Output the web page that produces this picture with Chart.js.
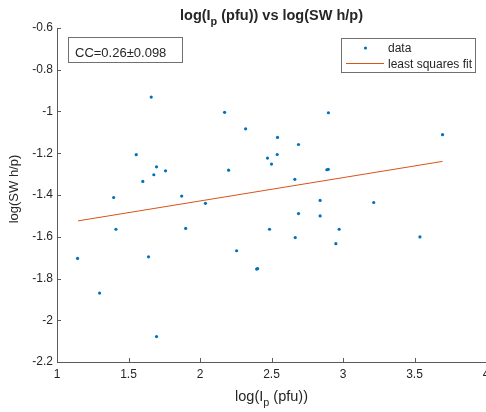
<!DOCTYPE html>
<html>
<head>
<meta charset="utf-8">
<script src="https://cdn.jsdelivr.net/npm/chart.js@4"></script>
<style>
  html, body { margin: 0; padding: 0; background: #fff; }
  canvas { display: block; }
</style>
</head>
<body>
<canvas id="scatterChart" width="486" height="412"></canvas>
<script>
// --- Data ---
const xVals = [1.144, 1.298, 1.396, 1.412, 1.554, 1.600, 1.640, 1.659, 1.677, 1.696,
               1.696, 1.759, 1.872, 1.900, 2.038, 2.172, 2.200, 2.256, 2.319, 2.396,
               2.403, 2.472, 2.486, 2.500, 2.540, 2.542, 2.663, 2.666, 2.689, 2.689,
               2.840, 2.840, 2.887, 2.897, 2.898, 2.950, 2.973, 3.215, 3.538, 3.696];
const yVals = [-1.704, -1.870, -1.412, -1.564, -1.207, -1.335, -1.696, -0.931, -1.303, -1.265,
               -2.078, -1.284, -1.405, -1.560, -1.440, -1.004, -1.281, -1.667, -1.083, -1.755,
               -1.753, -1.223, -1.564, -1.252, -1.206, -1.124, -1.325, -1.604, -1.158, -1.489,
               -1.426, -1.500, -1.279, -1.277, -1.006, -1.633, -1.564, -1.436, -1.601, -1.111];
const fitX = [1.147, 3.696];
const fitY = [-1.524, -1.239];
const xTicks = [1, 1.5, 2, 2.5, 3, 3.5, 4];
const xTickLabels = ['1', '1.5', '2', '2.5', '3', '3.5', '4'];
const yTicks = [-2.2, -2, -1.8, -1.6, -1.4, -1.2, -1, -0.8, -0.6];
const yTickLabels = ['-2.2', '-2', '-1.8', '-1.6', '-1.4', '-1.2', '-1', '-0.8', '-0.6'];
const ccText = 'CC=0.26\u00b10.098';

const FONT = '"Liberation Sans", Arial, sans-serif';
const AXIS_COLOR = '#5a5a5a';
const TEXT_COLOR = '#262626';
const BLUE = '#0072BD';
const ORANGE = '#D95319';

// --- Helper: text with a subscript part ---
function drawSubText(ctx, parts, x, y, size, bold, align) {
    // parts: [[text, isSub], ...]
    const w = parts.map(p => {
        ctx.font = (bold ? 'bold ' : '') + (p[1] ? size * 0.75 : size) + 'px ' + FONT;
        return ctx.measureText(p[0]).width;
    });
    const total = w.reduce((a, b) => a + b, 0);
    let cx = align === 'center' ? x - total / 2 : x;
    parts.forEach((p, i) => {
        ctx.font = (bold ? 'bold ' : '') + (p[1] ? size * 0.75 : size) + 'px ' + FONT;
        ctx.fillText(p[0], cx, p[1] ? y + size * 0.35 : y);
        cx += w[i];
    });
}

// --- Extras: title, labels, inward ticks, CC box, legend ---
const extras = {
    id: 'extras',
    afterDraw(chart) {
        const ctx = chart.ctx;
        const xs = chart.scales.x, ys = chart.scales.y;
        const area = chart.chartArea;
        ctx.save();

        // inward ticks
        ctx.strokeStyle = AXIS_COLOR;
        ctx.lineWidth = 1;
        ctx.beginPath();
        xTicks.forEach(v => {
            const px = Math.round(xs.getPixelForValue(v)) + 0.5;
            ctx.moveTo(px, area.bottom);
            ctx.lineTo(px, area.bottom - 4);
        });
        yTicks.forEach(v => {
            const py = Math.round(ys.getPixelForValue(v)) + 0.5;
            ctx.moveTo(area.left, py);
            ctx.lineTo(area.left + 4, py);
        });
        ctx.stroke();

        ctx.fillStyle = TEXT_COLOR;
        ctx.textBaseline = 'alphabetic';
        ctx.textAlign = 'left';

        // title
        drawSubText(ctx, [['log(I', false], ['p', true], [' (pfu)) vs log(SW h/p)', false]],
            271.5, 19.5, 14.5, true, 'center');

        // x axis label
        drawSubText(ctx, [['log(I', false], ['p', true], [' (pfu))', false]],
            271.5, 401, 14.5, false, 'center');

        // y axis label
        ctx.save();
        ctx.translate(17.5, 189);
        ctx.rotate(-Math.PI / 2);
        ctx.font = '13px ' + FONT;
        ctx.textAlign = 'center';
        ctx.fillText('log(SW h/p)', 0, 0);
        ctx.restore();

        // CC annotation box
        ctx.fillStyle = '#fff';
        ctx.fillRect(68, 37, 115, 26);
        ctx.strokeStyle = '#707070';
        ctx.strokeRect(68.5, 37.5, 114, 25);
        ctx.fillStyle = TEXT_COLOR;
        ctx.font = '13px ' + FONT;
        ctx.textAlign = 'left';
        ctx.fillText(ccText, 75, 56.5);

        // legend
        const ds = chart.data.datasets;
        ctx.fillStyle = '#fff';
        ctx.fillRect(341, 38, 135, 35);
        ctx.strokeStyle = '#707070';
        ctx.strokeRect(341.5, 38.5, 134, 34);
        ctx.fillStyle = BLUE;
        ctx.beginPath();
        ctx.arc(365.5, 48, 1.6, 0, Math.PI * 2);
        ctx.fill();
        ctx.strokeStyle = ORANGE;
        ctx.beginPath();
        ctx.moveTo(346, 63.5);
        ctx.lineTo(384, 63.5);
        ctx.stroke();
        ctx.fillStyle = TEXT_COLOR;
        ctx.font = '12px ' + FONT;
        ctx.fillText(ds[0].label, 388, 52);
        ctx.fillText(ds[1].label, 388, 68);

        ctx.restore();
    }
};

new Chart(document.getElementById('scatterChart').getContext('2d'), {
    type: 'scatter',
    data: {
        datasets: [{
            label: 'data',
            data: xVals.map((x, i) => ({ x: x, y: yVals[i] })),
            backgroundColor: BLUE,
            borderColor: BLUE,
            pointRadius: 1.6,
            pointBorderWidth: 0
        }, {
            label: 'least squares fit',
            type: 'line',
            data: fitX.map((x, i) => ({ x: x, y: fitY[i] })),
            borderColor: ORANGE,
            borderWidth: 1,
            pointRadius: 0,
            fill: false
        }]
    },
    options: {
        responsive: false,
        animation: false,
        devicePixelRatio: 1,
        layout: { autoPadding: false, padding: { top: 28, right: 0, left: 0, bottom: 0 } },
        plugins: { legend: { display: false }, title: { display: false }, tooltip: { enabled: false } },
        scales: {
            x: {
                type: 'linear',
                min: 1, max: 4,
                afterBuildTicks: s => { s.ticks = xTicks.map(v => ({ value: v })); },
                afterFit: s => { s.height = 50; s.paddingLeft = 0; s.paddingRight = 0; },
                grid: { drawOnChartArea: false, drawTicks: false },
                border: { display: true, color: AXIS_COLOR, width: 1 },
                ticks: {
                    padding: 5,
                    color: TEXT_COLOR,
                    font: { family: FONT, size: 12 },
                    maxRotation: 0,
                    autoSkip: false,
                    callback: (v, i) => xTickLabels[i]
                }
            },
            y: {
                type: 'linear',
                min: -2.2, max: -0.6,
                afterBuildTicks: s => { s.ticks = yTicks.map(v => ({ value: v })); },
                afterFit: s => { s.width = 57; s.paddingTop = 0; s.paddingBottom = 0; },
                grid: { drawOnChartArea: false, drawTicks: false },
                border: { display: true, color: AXIS_COLOR, width: 1 },
                ticks: {
                    padding: 4,
                    color: TEXT_COLOR,
                    font: { family: FONT, size: 12 },
                    autoSkip: false,
                    callback: (v, i) => yTickLabels[i]
                }
            }
        }
    },
    plugins: [extras]
});
</script>
</body>
</html>
